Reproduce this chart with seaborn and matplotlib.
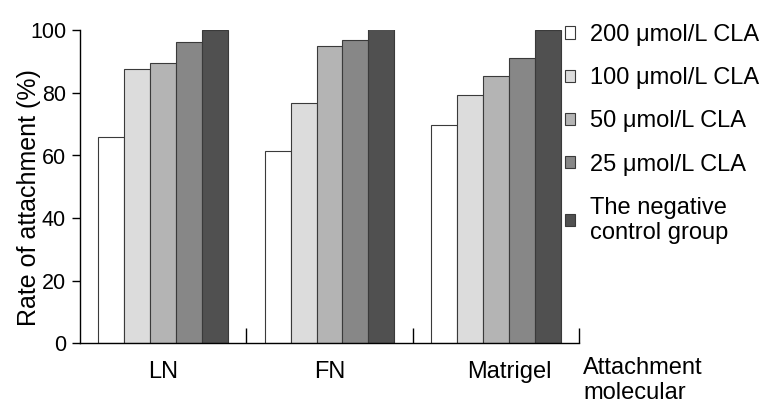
import matplotlib
matplotlib.use("Agg")
import matplotlib.pyplot as plt
import matplotlib.transforms as mtransforms
import seaborn as sns
import pandas as pd
import numpy as np

molecules = ["LN", "FN", "Matrigel"]
groups = ["200 \u03bcmol/L CLA", "100 \u03bcmol/L CLA", "50 \u03bcmol/L CLA",
          "25 \u03bcmol/L CLA", "The negative\ncontrol group"]
val_200 = [66.0, 61.4, 69.9]
val_100 = [87.8, 76.9, 79.2]
val_50 = [89.7, 95.0, 85.4]
val_25 = [96.2, 96.8, 91.3]
val_ctrl = [100.3, 100.7, 100.3]
colors = ["#ffffff", "#dcdcdc", "#b4b4b4", "#878787", "#505050"]
yticks = [0, 20, 40, 60, 80, 100]

rows = []
for g, vals in zip(groups, [val_200, val_100, val_50, val_25, val_ctrl]):
    for m, v in zip(molecules, vals):
        rows.append({"molecule": m, "rate": v, "group": g})
df = pd.DataFrame(rows)

sns.set_theme(style="white")
plt.rcParams["font.family"] = ["Liberation Sans", "DejaVu Sans"]
plt.rcParams["text.color"] = "black"

FS = 17

fig = plt.figure(figsize=(7.83, 4.19), dpi=100)
ax = fig.add_axes([80 / 783, 1 - 343 / 419, (579 - 80) / 783, (343 - 30.5) / 419])

sns.barplot(data=df, x="molecule", y="rate", hue="group", hue_order=groups,
            order=molecules, palette=colors, width=0.78, gap=0,
            edgecolor="#3a3a3a", linewidth=0.8, ax=ax, errorbar=None)

ax.set_xlim(-0.5, 2.5)
ax.set_ylim(0, 100)
ax.set_yticks(yticks)
ax.set_yticklabels([str(t) for t in yticks], fontsize=15.5, color="black")
ax.set_ylabel("Rate of attachment (%)", fontsize=18, color="black")
ax.yaxis.set_label_coords((41 - 80) / 499, (343 - 198) / 312.5)
ax.set_xlabel("")
ax.set_xticks(range(len(molecules)))
ax.set_xticklabels(molecules, fontsize=FS, color="black")
ax.tick_params(axis="x", which="major", length=0, pad=13)
ax.set_xticks([0.5, 1.5, 2.5], minor=True)
ax.tick_params(axis="x", which="minor", direction="in", length=11, width=1, color="black", bottom=True)
ax.tick_params(axis="y", direction="out", length=6, width=1, color="black", left=True, pad=4)
lab = ax.get_xticklabels()[2]
lab.set_transform(lab.get_transform() + mtransforms.ScaledTranslation(14 / 100, 0, fig.dpi_scale_trans))

for s in ["top", "right"]:
    ax.spines[s].set_visible(False)
for s in ["left", "bottom"]:
    ax.spines[s].set_color("black")
    ax.spines[s].set_linewidth(1)

handles, labels = ax.get_legend_handles_labels()
leg = ax.legend(handles, labels, loc="upper left", bbox_to_anchor=(565 / 783, 1 - 24 / 419),
                bbox_transform=fig.transFigure, frameon=False, fontsize=FS,
                handlelength=0.42, handleheight=0.42, handletextpad=0.65,
                labelspacing=0.9, borderpad=0, borderaxespad=0)
for t in leg.get_texts():
    t.set_color("black")
    t.set_linespacing(1.15)

fig.text(583 / 783, 1 - 357 / 419, "Attachment\nmolecular", fontsize=FS,
         ha="left", va="top", color="black", linespacing=1.15)

fig.savefig("out.png", dpi=100)
